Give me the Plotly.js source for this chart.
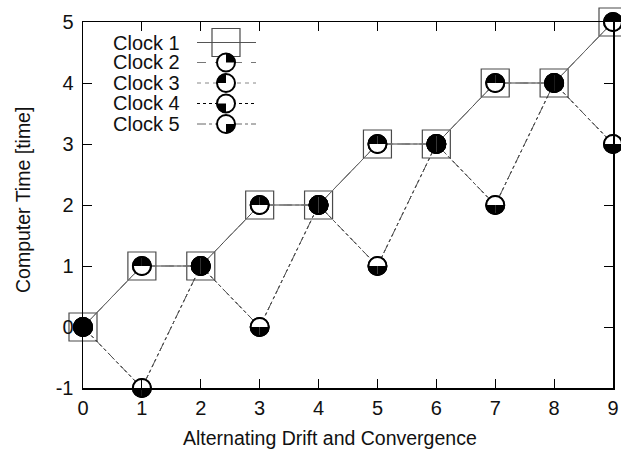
<!DOCTYPE html>
<html><head><meta charset="utf-8">
<script src="https://cdn.plot.ly/plotly-3.0.1.min.js"></script>
<style>html,body{margin:0;padding:0;background:#fff}#chart{width:621px;height:450px}</style>
</head><body><div id="chart"></div>
<script>
// ---- data ----
const xSteps = [0, 1, 2, 3, 4, 5, 6, 7, 8, 9];
const clock1 = [0, 1, 1, 2, 2, 3, 3, 4, 4, 5];
const clock2 = [0, 1, 1, 2, 2, 3, 3, 4, 4, 5];
const clock3 = [0, 1, 1, 2, 2, 3, 3, 4, 4, 5];
const clock4 = [0, -1, 1, 0, 2, 1, 3, 2, 4, 3];
const clock5 = [0, -1, 1, 0, 2, 1, 3, 2, 4, 3];
const clockNames = ['Clock 1', 'Clock 2', 'Clock 3', 'Clock 4', 'Clock 5'];
const xTickVals = [0, 1, 2, 3, 4, 5, 6, 7, 8, 9];
const xTickText = ['0', '1', '2', '3', '4', '5', '6', '7', '8', '9'];
const yTickVals = [-1, 0, 1, 2, 3, 4, 5];
const yTickText = ['-1', '0', '1', '2', '3', '4', '5'];
const xTitle = 'Alternating Drift and Convergence';
const yTitle = 'Computer Time [time]';

// ---- styles ----
const FONT = 'Liberation Sans, Arial, sans-serif';
const TXT = '#111';
const W = 621, H = 450;
const M = {l: 83, r: 8, t: 22, b: 62};
const PW = W - M.l - M.r, PH = H - M.t - M.b;
const px2fx = p => (p - M.l) / PW;
const py2fy = p => (H - M.b - p) / PH;
const R = 9.5; // wedge radius in px

const circleSeries = [
  {name: clockNames[1], y: clock2, dash: 'dash',    color: '#666', width: 1, quad: 0},
  {name: clockNames[2], y: clock3, dash: '4px,4px', color: '#777', width: 1, quad: 1},
  {name: clockNames[3], y: clock4, dash: 'dot',     color: '#000', width: 1, quad: 2},
  {name: clockNames[4], y: clock5, dash: 'dashdot', color: '#555', width: 1, quad: 3}
];

function wedgePath(q, r) {
  const a0 = q * Math.PI / 2;
  let p = 'M0,0';
  for (let k = 0; k <= 14; k++) {
    const a = a0 + k * (Math.PI / 2) / 14;
    p += ' L' + (r * Math.cos(a)).toFixed(2) + ',' + (r * Math.sin(a)).toFixed(2);
  }
  return p + ' Z';
}

const traces = [{
  type: 'scatter', mode: 'lines+markers', name: clockNames[0],
  x: xSteps, y: clock1, cliponaxis: false, showlegend: false,
  line: {color: '#444', width: 1},
  marker: {symbol: 'square-open', size: 28, color: '#4a4a4a', line: {width: 1.2, color: '#4a4a4a'}}
}];
circleSeries.forEach(s => traces.push({
  type: 'scatter', mode: 'lines+markers', name: s.name,
  x: xSteps, y: s.y, cliponaxis: false, showlegend: false,
  line: {color: s.color, width: s.width, dash: s.dash},
  marker: {symbol: 'circle', size: 18, color: '#fff', line: {width: 2, color: '#000'}}
}));

// ---- custom legend (gnuplot style) ----
const legRows = [42.5, 62.5, 83, 103.5, 124];
const legTextX = 182, legL0 = 197, legL1 = 256, legMX = 226;
const legendDash = ['solid', 'dash', '4px,4px', 'dot', 'dashdot'];
const legendColor = ['#555', '#777', '#888', '#000', '#666'];
const annotations = [];
const legendShapes = [];
clockNames.forEach((nm, i) => {
  const fy = py2fy(legRows[i]);
  annotations.push({xref: 'paper', yref: 'paper', x: px2fx(legTextX), y: fy,
    xanchor: 'right', yanchor: 'middle', showarrow: false, text: nm,
    font: {family: FONT, size: 20, color: TXT}});
  legendShapes.push({type: 'line', xref: 'paper', yref: 'paper',
    x0: px2fx(legL0), x1: px2fx(legL1), y0: fy, y1: fy,
    line: {color: legendColor[i], width: 1, dash: legendDash[i]}, layer: 'above'});
  if (i === 0) {
    legendShapes.push({type: 'rect', xref: 'paper', yref: 'paper', xsizemode: 'pixel', ysizemode: 'pixel',
      xanchor: px2fx(legMX), yanchor: fy, x0: -14, x1: 14, y0: -14, y1: 14,
      line: {color: '#4a4a4a', width: 1.2}, fillcolor: 'rgba(0,0,0,0)', layer: 'above'});
  } else {
    legendShapes.push({type: 'circle', xref: 'paper', yref: 'paper', xsizemode: 'pixel', ysizemode: 'pixel',
      xanchor: px2fx(legMX), yanchor: fy, x0: -9, x1: 9, y0: -9, y1: 9,
      line: {color: '#000', width: 2}, fillcolor: '#fff', layer: 'above'});
    legendShapes.push({type: 'path', xref: 'paper', yref: 'paper', xsizemode: 'pixel', ysizemode: 'pixel',
      xanchor: px2fx(legMX), yanchor: fy, path: wedgePath(circleSeries[i - 1].quad, R),
      line: {width: 0}, fillcolor: '#000', layer: 'above'});
  }
});

// axis titles
annotations.push({xref: 'paper', yref: 'paper', x: px2fx(330), y: py2fy(438),
  xanchor: 'center', yanchor: 'middle', showarrow: false, text: xTitle,
  font: {family: FONT, size: 19.5, color: TXT}});
annotations.push({xref: 'paper', yref: 'paper', x: px2fx(23), y: py2fy(200),
  xanchor: 'center', yanchor: 'middle', showarrow: false, text: yTitle, textangle: -90,
  font: {family: FONT, size: 19.5, color: TXT}});

const axisBase = {
  showline: true, linecolor: '#000', linewidth: 1.5, mirror: 'ticks',
  ticks: 'inside', ticklen: 9, tickwidth: 1, tickcolor: '#000',
  showgrid: false, zeroline: false, fixedrange: true,
  tickfont: {family: FONT, size: 20, color: TXT}, tickmode: 'array'
};

const layout = {
  width: W, height: H, margin: M,
  paper_bgcolor: '#fff', plot_bgcolor: '#fff',
  showlegend: false,
  xaxis: Object.assign({}, axisBase, {range: [0, 9], tickvals: xTickVals, ticktext: xTickText, ticklabelstandoff: 1}),
  yaxis: Object.assign({}, axisBase, {range: [-1, 5], tickvals: yTickVals, ticktext: yTickText, ticklabelstandoff: 4}),
  annotations: annotations,
  shapes: legendShapes
};

const gd = document.getElementById('chart');
Plotly.newPlot(gd, traces, layout, {staticPlot: true}).then(() => {
  const xa = gd._fullLayout.xaxis, ya = gd._fullLayout.yaxis;
  const shapes = legendShapes.slice();
  circleSeries.forEach(s => {
    xSteps.forEach((x, i) => {
      const fx = xa.l2p(x) / xa._length;
      const fy = 1 - ya.l2p(s.y[i]) / ya._length;
      shapes.push({type: 'path', xref: 'paper', yref: 'paper', xsizemode: 'pixel', ysizemode: 'pixel',
        xanchor: fx, yanchor: fy, path: wedgePath(s.quad, R),
        line: {width: 0}, fillcolor: '#000', layer: 'above'});
    });
  });
  return Plotly.relayout(gd, {shapes: shapes});
});
</script>
</body></html>
